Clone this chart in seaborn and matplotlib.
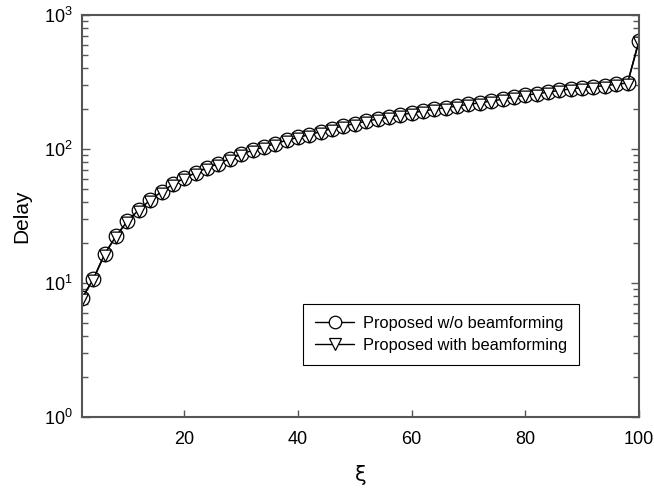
import numpy as np
import pandas as pd
import seaborn as sns
import matplotlib
matplotlib.use("Agg")
import matplotlib.pyplot as plt
from matplotlib.path import Path
from matplotlib.ticker import LogLocator, FixedLocator, NullFormatter

# xi values and measured delays
xi = [2, 4, 6, 8, 10, 12, 14, 16, 18, 20,
      22, 24, 26, 28, 30, 32, 34, 36, 38, 40,
      42, 44, 46, 48, 50, 52, 54, 56, 58, 60,
      62, 64, 66, 68, 70, 72, 74, 76, 78, 80,
      82, 84, 86, 88, 90, 92, 94, 96, 98, 100]

delay_no_bf = [7.7, 10.7, 16.5, 22.4, 29.0, 35.1, 41.6, 48.0, 54.5, 60.4,
               66.5, 72.1, 77.7, 84.6, 91.3, 97.8, 103.5, 109.6, 116.0, 122.0,
               128.0, 134.7, 142.0, 148.5, 154.5, 160.9, 167.5, 173.3, 179.4, 185.6,
               192.3, 197.9, 203.4, 209.4, 215.5, 221.0, 228.0, 235.0, 244.0, 251.6,
               258.9, 265.0, 274.0, 280.5, 287.0, 292.0, 297.0, 304.0, 311.0, 640.0]

delay_bf = [7.7, 10.7, 16.5, 22.4, 29.0, 35.1, 41.6, 48.0, 54.5, 60.4,
            66.5, 72.1, 77.7, 84.6, 91.3, 97.8, 103.5, 109.6, 116.0, 122.0,
            128.0, 134.7, 142.0, 148.5, 154.5, 160.9, 167.5, 173.3, 179.4, 185.6,
            192.3, 197.9, 203.4, 209.4, 215.5, 221.0, 228.0, 235.0, 244.0, 251.6,
            258.9, 265.0, 274.0, 280.5, 287.0, 292.0, 297.0, 304.0, 311.0, 640.0]

labels = ["Proposed w/o beamforming", "Proposed with beamforming"]
x_ticks = [20, 40, 60, 80, 100]

df = pd.DataFrame({
    "xi": xi * 2,
    "delay": delay_no_bf + delay_bf,
    "scheme": [labels[0]] * len(xi) + [labels[1]] * len(xi),
})

sns.set_theme(style="white")
plt.rcParams["font.family"] = ["Liberation Sans", "DejaVu Sans"]
plt.rcParams["mathtext.fontset"] = "custom"
plt.rcParams["mathtext.rm"] = "Liberation Sans"
plt.rcParams["mathtext.it"] = "Liberation Sans:italic"
plt.rcParams["text.color"] = "black"
plt.rcParams["axes.labelcolor"] = "black"
plt.rcParams["xtick.color"] = "black"
plt.rcParams["ytick.color"] = "black"

# downward triangle sitting slightly low so it nests inside the circle
tri = Path([(-0.8, 0.6), (0.8, 0.6), (0.0, -1.0), (-0.8, 0.6)],
           [Path.MOVETO, Path.LINETO, Path.LINETO, Path.CLOSEPOLY])

fig = plt.figure(figsize=(6.54, 4.93), dpi=100)
ax = fig.add_axes([0.1254, 0.1542, 0.8516, 0.8154])

for name, mk in zip(labels, ["o", tri]):
    sub = df[df["scheme"] == name]
    sns.lineplot(data=sub, x="xi", y="delay", ax=ax, color="black",
                 linewidth=1.1, marker=mk, markersize=10.5,
                 markerfacecolor="white", markeredgecolor="black",
                 markeredgewidth=0.9, label=name, legend=False)

ax.set_yscale("log")
ax.set_xlim(2, 100)
ax.set_ylim(1, 1000)

ax.xaxis.set_major_locator(FixedLocator(x_ticks))
ax.yaxis.set_major_locator(LogLocator(base=10, numticks=10))
ax.yaxis.set_minor_locator(LogLocator(base=10, subs=np.arange(2, 10), numticks=20))
ax.yaxis.set_minor_formatter(NullFormatter())

spine_col = "#555555"
for s in ax.spines.values():
    s.set_color(spine_col)
    s.set_linewidth(1.5)
    s.set_visible(True)

ax.tick_params(axis="x", which="major", direction="in", length=5, width=1,
               color=spine_col, labelcolor="black", labelsize=13, pad=10,
               top=False, bottom=True)
ax.tick_params(axis="y", which="major", direction="in", length=6, width=1,
               color=spine_col, labelcolor="black", labelsize=13, pad=7,
               left=True, right=True)
ax.tick_params(axis="y", which="minor", direction="in", length=4, width=1,
               color=spine_col, left=True, right=True)

ax.set_xlabel("ξ", fontsize=15, labelpad=12, family=["DejaVu Sans"], color="black")
ax.set_ylabel("Delay", fontsize=15, labelpad=9, color="black")

h1 = plt.Line2D([], [], color="black", linewidth=1.0, marker="o", markersize=9,
                markerfacecolor="white", markeredgecolor="black", markeredgewidth=0.9)
h2 = plt.Line2D([], [], color="black", linewidth=1.0, marker="v", markersize=9,
                markerfacecolor="white", markeredgecolor="black", markeredgewidth=0.9)
leg = ax.legend([h1, h2], labels, loc="upper left",
                bbox_to_anchor=(0.397, 0.281), fontsize=11.8, frameon=True,
                fancybox=False, edgecolor="black", framealpha=1,
                handlelength=2.4, handletextpad=0.55, labelspacing=0.42,
                borderpad=0.72, borderaxespad=0)
leg.get_frame().set_linewidth(0.8)
for t in leg.get_texts():
    t.set_color("black")

fig.savefig("out.png", dpi=100)
